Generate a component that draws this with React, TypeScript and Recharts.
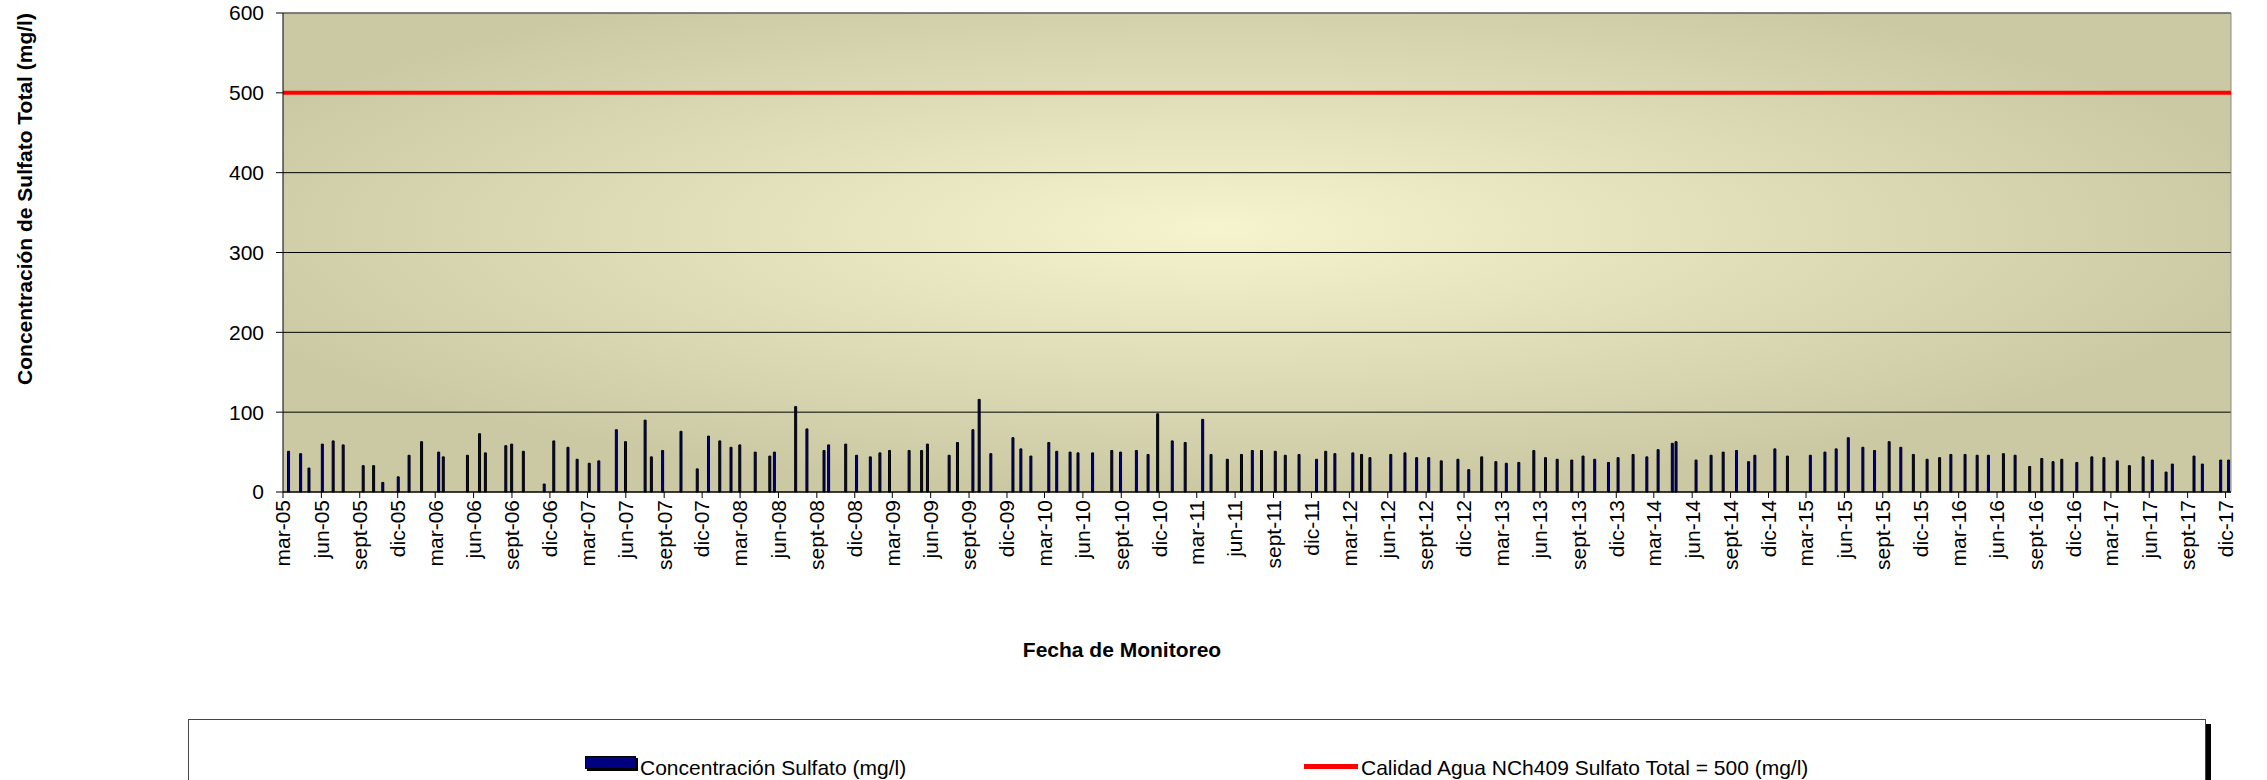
import React from 'react';
import { ComposedChart, Bar, XAxis, YAxis, CartesianGrid, ReferenceLine } from 'recharts';

const sampleDates = [
  '2005-03-14', '2005-04-12', '2005-05-02', '2005-06-03', '2005-06-29', '2005-07-23', '2005-09-09', '2005-10-04', '2005-10-26', '2005-12-02', '2005-12-28',
  '2006-01-27', '2006-03-09', '2006-03-20', '2006-05-17', '2006-06-15', '2006-06-29', '2006-08-17', '2006-08-31', '2006-09-28', '2006-11-17', '2006-12-10',
  '2007-01-13', '2007-02-04', '2007-03-05', '2007-03-28', '2007-05-09', '2007-05-31', '2007-07-17', '2007-08-01', '2007-08-28', '2007-10-11', '2007-11-19', '2007-12-16',
  '2008-01-12', '2008-02-08', '2008-02-29', '2008-04-06', '2008-05-11', '2008-05-22', '2008-07-12', '2008-08-08', '2008-09-18', '2008-09-29', '2008-11-09', '2008-12-05',
  '2009-01-07', '2009-01-30', '2009-02-22', '2009-04-10', '2009-05-10', '2009-05-24', '2009-07-15', '2009-08-04', '2009-09-10', '2009-09-25', '2009-10-23', '2009-12-15',
  '2010-01-03', '2010-01-27', '2010-03-11', '2010-03-30', '2010-05-01', '2010-05-20', '2010-06-24', '2010-08-09', '2010-08-30', '2010-10-07', '2010-11-04', '2010-11-27',
  '2011-01-01', '2011-02-01', '2011-03-15', '2011-04-04', '2011-05-13', '2011-06-16', '2011-07-12', '2011-08-03', '2011-09-05', '2011-09-29', '2011-11-01', '2011-12-13',
  '2012-01-04', '2012-01-26', '2012-03-09', '2012-03-30', '2012-04-19', '2012-06-08', '2012-07-12', '2012-08-09', '2012-09-07', '2012-10-07', '2012-11-16', '2012-12-12',
  '2013-01-12', '2013-02-15', '2013-03-12', '2013-04-11', '2013-05-17', '2013-06-14', '2013-07-12', '2013-08-16', '2013-09-12', '2013-10-10', '2013-11-12', '2013-12-05',
  '2014-01-10', '2014-02-12', '2014-03-11', '2014-04-14', '2014-04-23', '2014-06-10', '2014-07-16', '2014-08-14', '2014-09-15', '2014-10-14', '2014-10-29', '2014-12-16',
  '2015-01-15', '2015-03-11', '2015-04-15', '2015-05-12', '2015-06-10', '2015-07-15', '2015-08-12', '2015-09-16', '2015-10-14', '2015-11-13', '2015-12-16',
  '2016-01-15', '2016-02-11', '2016-03-16', '2016-04-14', '2016-05-11', '2016-06-16', '2016-07-14', '2016-08-18', '2016-09-16', '2016-10-13', '2016-11-03', '2016-12-09',
  '2017-01-14', '2017-02-12', '2017-03-16', '2017-04-14', '2017-05-17', '2017-06-08', '2017-07-11', '2017-07-26', '2017-09-16', '2017-10-06', '2017-11-19', '2017-12-08',
];

const sulfato = [
  51, 48, 30, 60, 64, 59, 33, 33, 12, 19, 46,
  63, 50, 44, 46, 73, 49, 58, 60, 51, 10, 64,
  56, 41, 36, 39, 78, 63, 90, 44, 52, 76, 29, 70,
  64, 56, 59, 50, 45, 50, 107, 79, 52, 59, 60, 46,
  44, 49, 52, 52, 52, 60, 46, 62, 78, 116, 48, 68,
  54, 45, 62, 51, 50, 49, 49, 52, 50, 52, 47, 98,
  64, 62, 91, 47, 41, 47, 52, 52, 51, 46, 47, 41,
  51, 48, 49, 47, 43, 47, 49, 43, 43, 39, 41, 28,
  44, 38, 36, 37, 52, 43, 41, 40, 45, 41, 37, 43,
  47, 44, 53, 61, 63, 40, 46, 50, 52, 38, 46, 54,
  45, 46, 50, 54, 68, 56, 52, 63, 56, 47, 41,
  43, 47, 47, 46, 46, 48, 46, 32, 42, 38, 41, 37,
  44, 43, 39, 33, 44, 40, 25, 35, 45, 35, 40, 40,
];

// norma NCh409
const limite = 500;

const yTicks = [0, 100, 200, 300, 400, 500, 600];
const mesesCortos = ['ene', 'feb', 'mar', 'abr', 'may', 'jun', 'jul', 'ago', 'sept', 'oct', 'nov', 'dic'];

const toTime = (s: string) => {
  const [y, m, d] = s.split('-').map(Number);
  return Date.UTC(y, m - 1, d);
};

const domainStart = Date.UTC(2005, 2, 1);
const domainEnd = Date.UTC(2017, 11, 14);

// ticks cada trimestre: mar, jun, sept, dic
const xTicks: number[] = [];
for (let y = 2005; y <= 2017; y++) {
  for (const m of [2, 5, 8, 11]) xTicks.push(Date.UTC(y, m, 1));
}

const data = sampleDates.map((d, i) => ({ t: toTime(d), valor: sulfato[i] }));

const FONT = '"Liberation Sans", Arial, sans-serif';

const fmtFecha = (t: number) => {
  const d = new Date(t);
  return `${mesesCortos[d.getUTCMonth()]}-${String(d.getUTCFullYear()).slice(2)}`;
};

const FechaTick = (props: any) => {
  const { x, y, payload } = props;
  return (
    <g transform={`translate(${x},${y})`}>
      <text transform="rotate(-90)" textAnchor="end" dy="0.35em" fontSize={21} fill="#000" fontFamily={FONT}>
        {fmtFecha(payload.value)}
      </text>
    </g>
  );
};

export default function App() {
  return (
    <div style={{ position: 'absolute', left: 0, top: 0, width: 2267, height: 780, background: '#fff', overflow: 'hidden', fontFamily: FONT }}>
      <ComposedChart width={2267} height={780} data={data} margin={{ top: 13, right: 36, left: 0, bottom: 0 }}>
        <defs>
          <radialGradient id="fondo" cx="0.48" cy="0.45" r="0.55">
            <stop offset="0%" stopColor="#f5f4cf" />
            <stop offset="100%" stopColor="#cbc9a3" />
          </radialGradient>
        </defs>
        <CartesianGrid vertical={false} stroke="#000" fill="url(#fondo)" fillOpacity={1} />
        <XAxis
          dataKey="t"
          type="number"
          scale="linear"
          domain={[domainStart, domainEnd]}
          ticks={xTicks}
          interval={0}
          height={288}
          tick={<FechaTick />}
          tickSize={6}
          tickMargin={2}
          stroke="#000"
          allowDataOverflow
        />
        <YAxis
          domain={[0, 600]}
          ticks={yTicks}
          width={283}
          tickSize={7}
          tickMargin={12}
          stroke="#000"
          tick={{ fontSize: 21, fill: '#000', fontFamily: FONT }}
        />
        <ReferenceLine y={600} stroke="#8a8a8a" />
        <ReferenceLine x={domainEnd} stroke="#8a8a8a" />
        <Bar dataKey="valor" barSize={2} fill="#000080" stroke="#000" strokeWidth={1} isAnimationActive={false} />
        <ReferenceLine y={limite} stroke="#ff0000" strokeWidth={4} />
      </ComposedChart>

      <div style={{ position: 'absolute', left: 25, top: 199, transform: 'translate(-50%, -50%) rotate(-90deg)', whiteSpace: 'nowrap', fontSize: 21, fontWeight: 'bold' }}>
        Concentración de Sulfato Total (mg/l)
      </div>
      <div style={{ position: 'absolute', left: 1122, top: 650, transform: 'translate(-50%, -50%)', whiteSpace: 'nowrap', fontSize: 21, fontWeight: 'bold' }}>
        Fecha de Monitoreo
      </div>

      <div style={{ position: 'absolute', left: 188, top: 719, width: 2016, height: 100, border: '1px solid #444', boxShadow: '5px 5px 0 #000', background: '#fff' }}>
        <div style={{ position: 'absolute', left: 396, top: 36, width: 49, height: 11, background: '#000080', border: '1px solid #000', boxShadow: '2px 2px 0 #000' }} />
        <div style={{ position: 'absolute', left: 451, top: 48, transform: 'translateY(-50%)', fontSize: 21, whiteSpace: 'nowrap' }}>
          Concentración Sulfato (mg/l)
        </div>
        <div style={{ position: 'absolute', left: 1115, top: 44, width: 54, height: 5, background: '#ff0000' }} />
        <div style={{ position: 'absolute', left: 1172, top: 48, transform: 'translateY(-50%)', fontSize: 21, whiteSpace: 'nowrap' }}>
          Calidad Agua NCh409 Sulfato Total = 500 (mg/l)
        </div>
      </div>
    </div>
  );
}
